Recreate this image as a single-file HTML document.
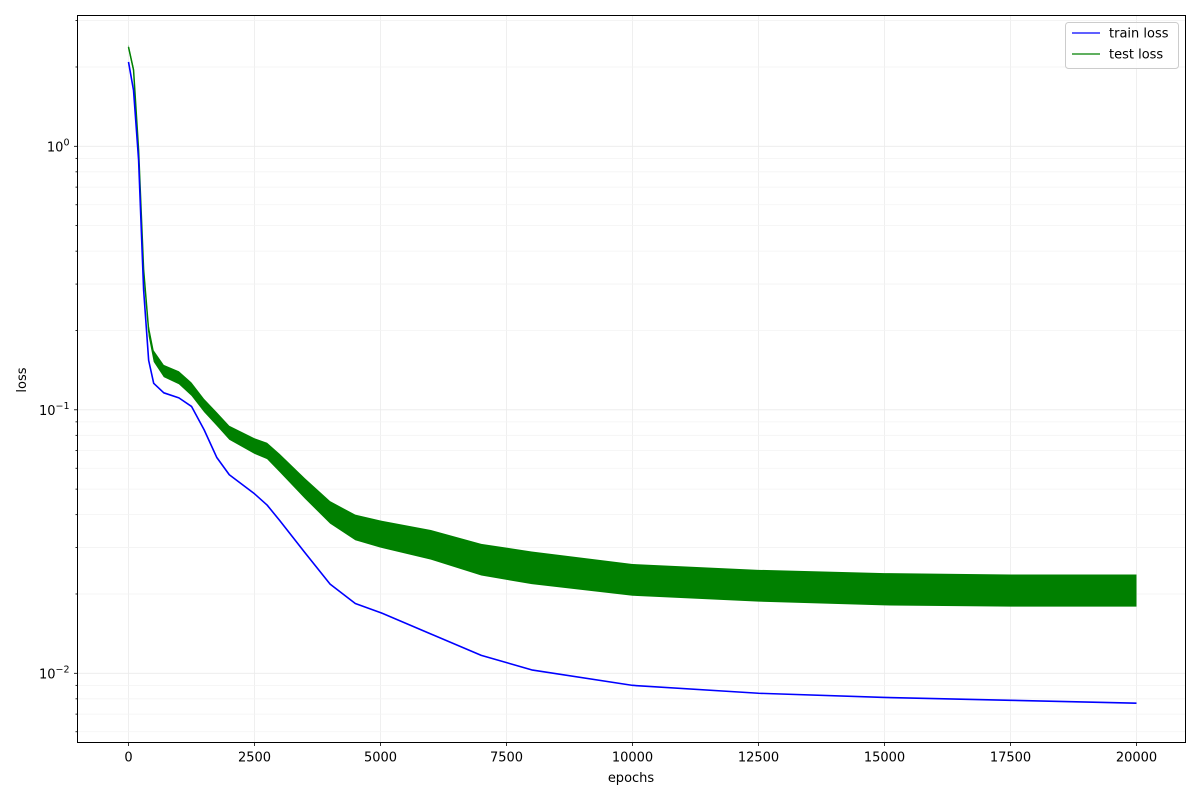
<!DOCTYPE html>
<html><head><meta charset="utf-8"><style>
body{margin:0;background:#fff;}
svg{display:block;font-family:"DejaVu Sans","Liberation Sans",sans-serif;}
</style></head><body>
<svg id="chart" width="1200" height="800"></svg>
<script>
const epochs   = [0,100,200,300,400,500,700,1000,1250,1500,1750,2000,2500,2750,3000,3500,4000,4500,5000,6000,7000,8000,10000,12500,15000,17500,20000];
const trainLoss= [2.09,1.63,0.89,0.285,0.154,0.126,0.116,0.111,0.103,0.084,0.066,0.0567,0.048,0.0435,0.038,0.0287,0.0218,0.0184,0.017,0.0141,0.0117,0.0103,0.009,0.0084,0.0081,0.0079,0.0077];
const testLoss = [2.38,1.95,0.97,0.34,0.20,0.16,0.14,0.132,0.12,0.104,0.092,0.082,0.073,0.07,0.063,0.05,0.041,0.036,0.034,0.031,0.027,0.025,0.0226,0.0214,0.0208,0.0205,0.0205];
const testHigh = [2.43,2.0,1.0,0.355,0.21,0.168,0.148,0.14,0.127,0.11,0.098,0.087,0.078,0.075,0.068,0.055,0.045,0.040,0.038,0.035,0.031,0.029,0.026,0.0247,0.024,0.0237,0.0237];
const testLow  = [2.33,1.9,0.94,0.325,0.19,0.152,0.133,0.125,0.113,0.098,0.087,0.077,0.068,0.065,0.058,0.046,0.037,0.032,0.030,0.027,0.0235,0.0218,0.0197,0.0187,0.0181,0.0179,0.0179];
const xTicks = [0,2500,5000,7500,10000,12500,15000,17500,20000];
const yDecades = [-2,-1,0];

const svg=document.getElementById('chart');
const NS='http://www.w3.org/2000/svg';
const L=77.5,R=1185.5,T=15.5,B=742.5;
const X=v=>128.5+(v/2500)*126;
const Y=v=>146.3-Math.log10(v)*263.5;
function mk(tag,attrs,parent){const e=document.createElementNS(NS,tag);for(const k in attrs)e.setAttribute(k,attrs[k]);(parent||svg).appendChild(e);return e;}

const grid=mk('g',{});


xTicks.forEach(t=>{
  mk('line',{x1:X(t),x2:X(t),y1:T,y2:B,stroke:'#ebebeb','stroke-width':0.8},grid);
});
const axes=mk('g',{});


[-3,-2,-1,0].forEach(d=>{
  for(let m=1;m<10;m++){
    const v=m*Math.pow(10,d);const y=Y(v);
    if(y<T||y>B)continue;
    mk('line',{x1:L,x2:R,y1:y,y2:y,stroke:m===1?'#ebebeb':'#f3f3f3','stroke-width':0.8},grid);
    mk('line',{x1:L,x2:L-(m===1?3.5:2),y1:y,y2:y,stroke:'#000','stroke-width':0.8},axes);
  }
});
yDecades.forEach(d=>{
  const t=mk('text',{x:L-8,y:Y(Math.pow(10,d))+5,'text-anchor':'end','font-size':13},axes);
  
  
  t.innerHTML='10<tspan dy="-6" font-size="9.5">'+(d<0?'\u2212'+(-d):d)+'</tspan>';
});
xTicks.forEach(t=>{
  mk('line',{x1:X(t),x2:X(t),y1:B,y2:B+3.5,stroke:'#000','stroke-width':0.8},axes);
  const tx=mk('text',{x:X(t),y:B+19,'text-anchor':'middle','font-size':13},axes);
  
  
  tx.textContent=t;
});

// test band
let pts=epochs.map((e,i)=>X(e)+','+Y(testHigh[i]));
pts=pts.concat(epochs.map((e,i)=>X(e)+','+Y(testLow[i])).reverse());
const band=mk('polygon',{points:pts.join(' '),fill:'#008000'});


const tl=mk('polyline',{points:epochs.map((e,i)=>X(e)+','+Y(testLoss[i])).join(' '),fill:'none',stroke:'#008000','stroke-width':1.5,'stroke-linejoin':'round'});


const tr=mk('polyline',{points:epochs.map((e,i)=>X(e)+','+Y(trainLoss[i])).join(' '),fill:'none',stroke:'#0000ff','stroke-width':1.6,'stroke-linejoin':'round'});



const frame=mk('rect',{x:L,y:T,width:R-L,height:B-T,fill:'none',stroke:'#000','stroke-width':1});



const xl=mk('text',{x:631,y:782,'text-anchor':'middle','font-size':13});


xl.textContent='epochs';
const yl=mk('text',{x:0,y:0,'text-anchor':'middle','font-size':13,transform:'translate(26,380) rotate(-90)'});


yl.textContent='loss';

const lg=mk('g',{});


mk('rect',{x:1065.5,y:22.5,width:113,height:46,rx:3,fill:'#fff','fill-opacity':0.8,stroke:'#ccc','stroke-width':1},lg);
[['train loss','#0000ff',33],['test loss','#008000',54]].forEach(([n,c,y])=>{
  const g=mk('g',{},lg);
  
  
  mk('line',{x1:1072,x2:1100,y1:y,y2:y,stroke:c,'stroke-width':1.2},g);
  const t=mk('text',{x:1109,y:y+4.5,'font-size':13},g);
  t.textContent=n;
});
</script>
</body></html>
